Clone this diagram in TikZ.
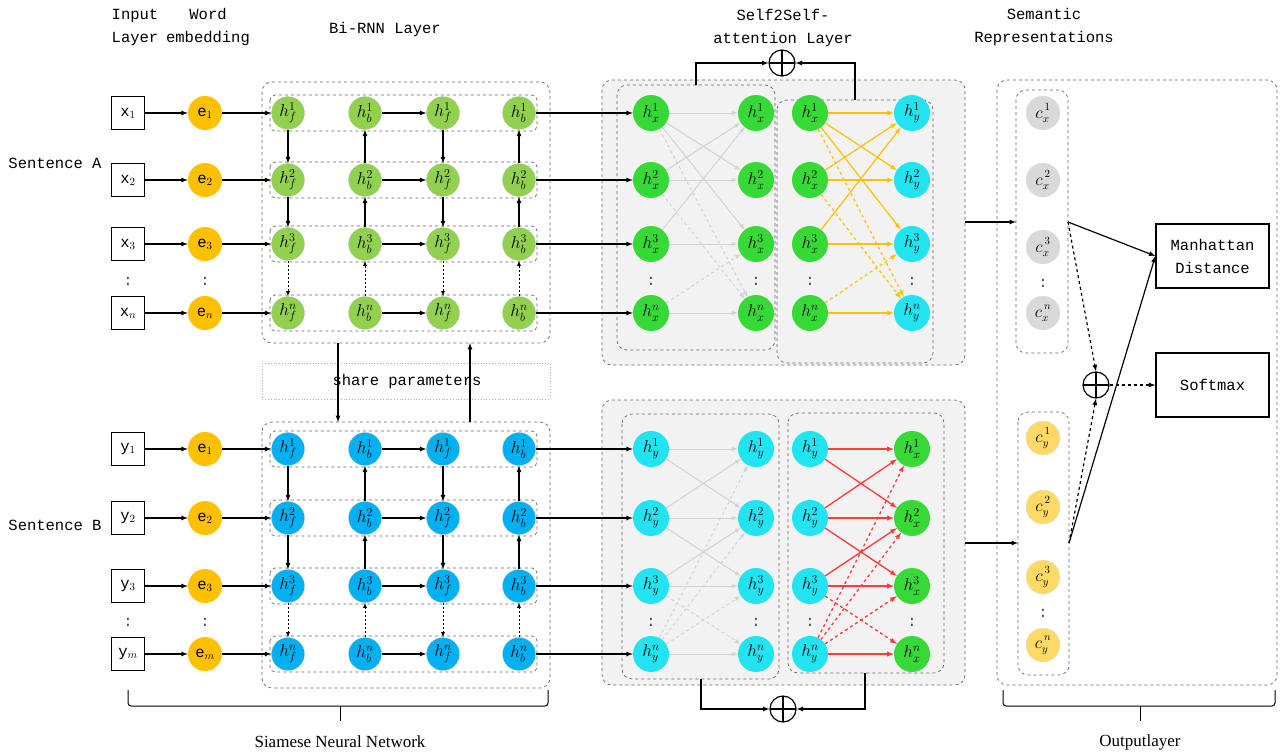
\documentclass[tikz,border=0pt]{standalone}
\usepackage[no-math]{fontspec}
\setmainfont{Liberation Mono}
\newfontfamily\capfont{Liberation Serif}
\usepackage{xcolor}

\definecolor{rnnA}{HTML}{92D050}
\definecolor{rnnB}{HTML}{00B0F0}
\definecolor{embC}{HTML}{FFC000}
\definecolor{attX}{HTML}{36D936}
\definecolor{attY}{HTML}{22E4F0}
\definecolor{semX}{HTML}{D9D9D9}
\definecolor{semY}{HTML}{FFD966}
\definecolor{boxFill}{HTML}{F2F2F2}
\definecolor{edgeGray}{HTML}{D2D2D2}
\definecolor{edgeYel}{HTML}{FFC000}
\definecolor{edgeRed}{HTML}{FF3B3B}

\begin{document}
\begin{tikzpicture}[x=1pt,y=-1pt,
	font=\fontsize{15.5}{23}\selectfont,
	inbox/.style={draw,line width=1.3pt,minimum size=33pt,inner sep=0pt},
	emb/.style={circle,fill=embC,minimum size=34pt,inner sep=0pt},
	hnode/.style={circle,draw=black!25,densely dashed,minimum size=33pt,inner sep=0pt,font=\fontsize{17}{17}\selectfont},
	anode/.style={circle,minimum size=36pt,inner sep=0pt,font=\fontsize{17}{17}\selectfont},
	cnode/.style={circle,draw=black!12,minimum size=34pt,inner sep=0pt,font=\fontsize{16}{16}\selectfont},
	grp/.style={draw=black!60,dashed,rounded corners=10pt,line width=0.7pt},
	rowbox/.style={draw=black!60,dashed,rounded corners=5pt,line width=0.7pt},
	link/.style={-latex,line width=1.2pt},
	dlink/.style={-latex,line width=0.8pt,dash pattern=on 2pt off 2pt},
	gedge/.style={-latex,draw=edgeGray,line width=1pt},
	yedge/.style={-latex,draw=edgeYel,line width=1.2pt},
	redge/.style={-latex,draw=edgeRed,line width=1.3pt},
	outbox/.style={draw,line width=1.3pt,minimum width=113pt,minimum height=64pt,align=center,inner sep=0pt},
	plusop/.style={circle,draw,line width=1.2pt,minimum size=26pt,inner sep=0pt,
		path picture={\draw[line width=1.2pt] (path picture bounding box.north) -- (path picture bounding box.south)
			(path picture bounding box.west) -- (path picture bounding box.east);}},
	vdot/.style={text=black!70,inner sep=0pt}]
	
	\useasboundingbox (0,0) rectangle (1281,755);
	
	% titles
	\node[align=center] (lblInput) at (135,27) {Input\\Layer};
	\node[align=center] (lblWord) at (208,27) {Word\\embedding};
	\node (lblRnn) at (385,29) {Bi-RNN Layer};
	\node[align=center] (lblAtt) at (783,28) {Self2Self-\\attention Layer};
	\node[align=center] (lblSem) at (1044,27) {Semantic\\Representations};
	\node (lblSentA) at (55,163) {Sentence A};
	\node (lblSentB) at (55,525) {Sentence B};
	
	% group boxes
	\draw[grp] (262,82) rectangle (550,343);
	\draw[grp] (262,422) rectangle (550,688);
	\foreach \yy in {113,180,244,313,449,518,586,654}
	\draw[rowbox] (270,\yy-18) rectangle (537,\yy+18);
	\draw[draw=blue!35,dotted,line width=0.8pt] (262,363) rectangle (550,399);
	\node (lblShare) at (407,381) {share parameters};
	
	\draw[grp,fill=boxFill] (602,80) rectangle (965,365);
	\draw[grp] (617,85) rectangle (775,350);
	\draw[grp] (777,100) rectangle (933,363);
	\draw[grp,fill=boxFill] (602,400) rectangle (965,685);
	\draw[grp] (622,414) rectangle (779,679);
	\draw[grp] (788,413) rectangle (944,673);
	
	\draw[grp] (997,80) rectangle (1277,685);
	\draw[grp] (1016,90) rectangle (1068,353);
	\draw[grp] (1018,412) rectangle (1069,675);
	
	% sentence A
	\foreach \i/\yy in {1/113,2/180,3/244,n/313}{
		\node[inbox] (inA\i) at (128,\yy) {x$_{\i}$};
		\node[emb] (embA\i) at (205,\yy) {e$_{\i}$};
		\node[hnode,fill=rnnA] (rA-1-\i) at (288,\yy) {$h_f^{\i}$};
		\node[hnode,fill=rnnA] (rA-2-\i) at (365,\yy) {$h_b^{\i}$};
		\node[hnode,fill=rnnA] (rA-3-\i) at (443,\yy) {$h_f^{\i}$};
		\node[hnode,fill=rnnA] (rA-4-\i) at (519,\yy) {$h_b^{\i}$};
		\node[anode,fill=attX] (atA-1-\i) at (651,\yy) {$h_x^{\i}$};
		\node[anode,fill=attX] (atA-2-\i) at (756,\yy) {$h_x^{\i}$};
		\node[anode,fill=attX] (atA-3-\i) at (810,\yy) {$h_x^{\i}$};
		\node[anode,fill=attY] (atA-4-\i) at (912,\yy) {$h_y^{\i}$};
	}
	\foreach \i/\yy in {1/113,2/180,3/247,n/313}
	\node[cnode,fill=semX] (semA\i) at (1043,\yy) {${c\vphantom{h}}_x^{\,\i}$};
	
	% sentence B
	\foreach \i/\yy/\s in {1/449/1,2/518/2,3/586/3,n/654/m}{
		\node[inbox] (inB\i) at (128,\yy) {y$_{\s}$};
		\node[emb] (embB\i) at (205,\yy) {e$_{\s}$};
		\node[hnode,fill=rnnB] (rB-1-\i) at (288,\yy) {$h_f^{\i}$};
		\node[hnode,fill=rnnB] (rB-2-\i) at (365,\yy) {$h_b^{\i}$};
		\node[hnode,fill=rnnB] (rB-3-\i) at (443,\yy) {$h_f^{\i}$};
		\node[hnode,fill=rnnB] (rB-4-\i) at (519,\yy) {$h_b^{\i}$};
		\node[anode,fill=attY] (atB-1-\i) at (651,\yy) {$h_y^{\i}$};
		\node[anode,fill=attY] (atB-2-\i) at (756,\yy) {$h_y^{\i}$};
		\node[anode,fill=attY] (atB-3-\i) at (810,\yy) {$h_y^{\i}$};
		\node[anode,fill=attX] (atB-4-\i) at (912,\yy) {$h_x^{\i}$};
	}
	\foreach \i/\yy in {1/438,2/507,3/577,n/645}
	\node[cnode,fill=semY] (semB\i) at (1043,\yy) {${c\vphantom{h}}_y^{\,\i}$};
	
	% dots
	\foreach \xx [count=\k] in {128,205,651,756,810,912}{
		\node[vdot] (dotA\k) at (\xx,281) {:};
		\node[vdot] (dotB\k) at (\xx,622) {:};
	}
	\node[vdot] (dotSemA) at (1043,283) {:};
	\node[vdot] (dotSemB) at (1043,613) {:};
	
	% Bi-RNN arrows
	\foreach \p in {A,B}{
		\foreach \i in {1,2,3,n}{
			\draw[link] (in\p\i) -- (emb\p\i);
			\draw[link] (emb\p\i) -- (r\p-1-\i);
			\draw[link] (r\p-2-\i) -- (r\p-3-\i);
			\draw[link] (r\p-4-\i) -- (at\p-1-\i);
		}
		\foreach \u/\v in {1/2,2/3}{
			\draw[link] (r\p-1-\u) -- (r\p-1-\v);
			\draw[link] (r\p-3-\u) -- (r\p-3-\v);
			\draw[link] (r\p-2-\v) -- (r\p-2-\u);
			\draw[link] (r\p-4-\v) -- (r\p-4-\u);
		}
		\draw[dlink] (r\p-1-3) -- (r\p-1-n);
		\draw[dlink] (r\p-3-3) -- (r\p-3-n);
		\draw[dlink] (r\p-2-n) -- (r\p-2-3);
		\draw[dlink] (r\p-4-n) -- (r\p-4-3);
	}
	
	% share parameters
	\coordinate (shareDownA) at (338,343);
	\coordinate (shareDownB) at (338,422);
	\coordinate (shareUpB) at (470,422);
	\coordinate (shareUpA) at (470,343);
	\draw[link] (shareDownA) -- (shareDownB);
	\draw[link] (shareUpB) -- (shareUpA);
	
	% attention edges
	\foreach \s/\t in {1/1,1/2,1/3,2/1,2/2,3/1,3/3,n/n}{
		\draw[gedge] (atA-1-\s) -- (atA-2-\t);
		\draw[yedge] (atA-3-\s) -- (atA-4-\t);
	}
	\foreach \s/\t in {1/n,2/n,n/3}{
		\draw[gedge,dashed] (atA-1-\s) -- (atA-2-\t);
		\draw[yedge,dashed] (atA-3-\s) -- (atA-4-\t);
	}
	\foreach \s/\t in {1/1,1/2,2/1,2/2,2/3,3/2,3/3,n/n}{
		\draw[gedge] (atB-1-\s) -- (atB-2-\t);
		\draw[redge] (atB-3-\s) -- (atB-4-\t);
	}
	\foreach \s/\t in {3/n,n/1,n/2,n/3}{
		\draw[gedge,dashed] (atB-1-\s) -- (atB-2-\t);
		\draw[redge,dashed] (atB-3-\s) -- (atB-4-\t);
	}
	
	% sum nodes
	\node[plusop] (plusA) at (782,63) {};
	\node[plusop] (plusB) at (783,709) {};
	\coordinate (attAtopL) at (696,85);
	\coordinate (attAtopR) at (855,100);
	\coordinate (attBbotL) at (701,679);
	\coordinate (attBbotR) at (865,673);
	\draw[link] (attAtopL) |- (plusA);
	\draw[link] (attAtopR) |- (plusA);
	\draw[link] (attBbotL) |- (plusB);
	\draw[link] (attBbotR) |- (plusB);
	
	% output layer
	\node[outbox] (manh) at (1212.5,256) {Manhattan\\Distance};
	\node[outbox] (soft) at (1212.5,385) {Softmax};
	\node[plusop] (plusC) at (1096,385) {};
	\coordinate (attAout) at (965,222);
	\coordinate (semAin) at (1016,222);
	\coordinate (semAout) at (1068,222);
	\coordinate (attBout) at (965,543);
	\coordinate (semBin) at (1018,543);
	\coordinate (semBout) at (1069,543);
	\draw[link] (attAout) -- (semAin);
	\draw[link] (attBout) -- (semBin);
	\draw[link] (semAout) -- (manh.west);
	\draw[link] (semBout) -- (manh.west);
	\draw[link,dashed] (semAout) -- (plusC.north);
	\draw[link,dashed] (semBout) -- (plusC.south);
	\draw[link,dashed] (plusC) -- (soft);
	
	% braces
	\draw[line width=1pt,rounded corners=3pt] (128,690) -- (128,706) -- (548,706) -- (548,690);
	\draw[line width=1pt] (340,706) -- (340,721);
	\node[font=\capfont\fontsize{17}{17}\selectfont] (lblSiamese) at (340,742) {Siamese Neural Network};
	\draw[line width=1pt,rounded corners=3pt] (1003,690) -- (1003,706) -- (1275,706) -- (1275,690);
	\draw[line width=1pt] (1140,706) -- (1140,721);
	\node[font=\capfont\fontsize{17}{17}\selectfont] (lblOut) at (1140,742) {Outputlayer};
	
\end{tikzpicture}
\end{document}
